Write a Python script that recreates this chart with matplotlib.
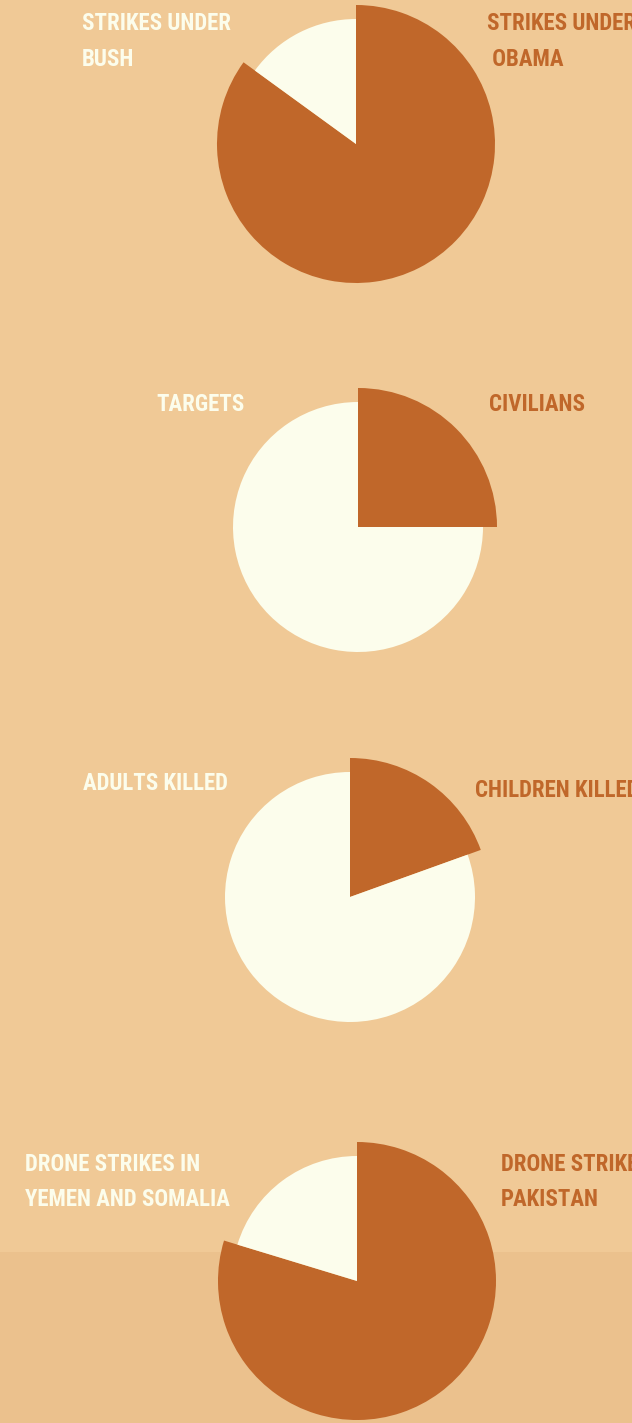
import matplotlib
matplotlib.use("Agg")
import matplotlib.pyplot as plt

# shares (dark slice first, light slice second)
dark_labels = ["STRIKES UNDER\n OBAMA", "CIVILIANS", "CHILDREN KILLED", "DRONE STRIKES IN\nPAKISTAN"]
light_labels = ["STRIKES UNDER\nBUSH", "TARGETS", "ADULTS KILLED", "DRONE STRIKES IN\nYEMEN AND SOMALIA"]
dark_values = [85, 25, 19.5, 79.7]
light_values = [15, 75, 80.5, 20.3]

BG = "#F0C996"
BAND = "#EBC18D"
DARK = "#C0672A"
LIGHT = "#FCFDEC"

W, H = 632, 1423
centers = [(356, 144), (358, 527), (350, 897), (357, 1281)]
r_dark, r_light = 139, 125
# label anchors: (x, first baseline)
light_pos = [(82, 30), (156, 411), (83, 790), (25, 1171)]
dark_pos = [(487, 30), (489, 411), (475, 797), (501, 1171)]
line_step = 35.5

fig = plt.figure(figsize=(W / 100, H / 100), dpi=100, facecolor=BG)
ax = fig.add_axes([0, 0, 1, 1])
ax.set_facecolor(BG)
ax.axhspan(1252, H, color=BAND, lw=0, zorder=0)

font = dict(family=["Roboto Condensed", "Liberation Sans Narrow", "DejaVu Sans Condensed",
                    "Open Sans Condensed", "Liberation Sans"],
            fontweight="bold", fontsize=16.5)

for i in range(4):
    vals = [dark_values[i], light_values[i]]
    # y axis is inverted, so data-ccw from -90 is clockwise from 12 o'clock
    ax.pie(vals, colors=[DARK, "none"], radius=r_dark, center=centers[i],
           startangle=-90, counterclock=True, wedgeprops=dict(linewidth=0))
    ax.pie(vals, colors=["none", LIGHT], radius=r_light, center=centers[i],
           startangle=-90, counterclock=True, wedgeprops=dict(linewidth=0))

    for lab, (x, y), col in [(light_labels[i], light_pos[i], LIGHT),
                             (dark_labels[i], dark_pos[i], DARK)]:
        for j, line in enumerate(lab.split("\n")):
            ax.text(x, y + j * line_step, line, color=col, ha="left",
                    va="baseline", clip_on=False, **font)

ax.set_xlim(0, W)
ax.set_ylim(H, 0)
ax.set_aspect("auto")
ax.axis("off")

fig.savefig("out.png", dpi=100, facecolor=BG)
